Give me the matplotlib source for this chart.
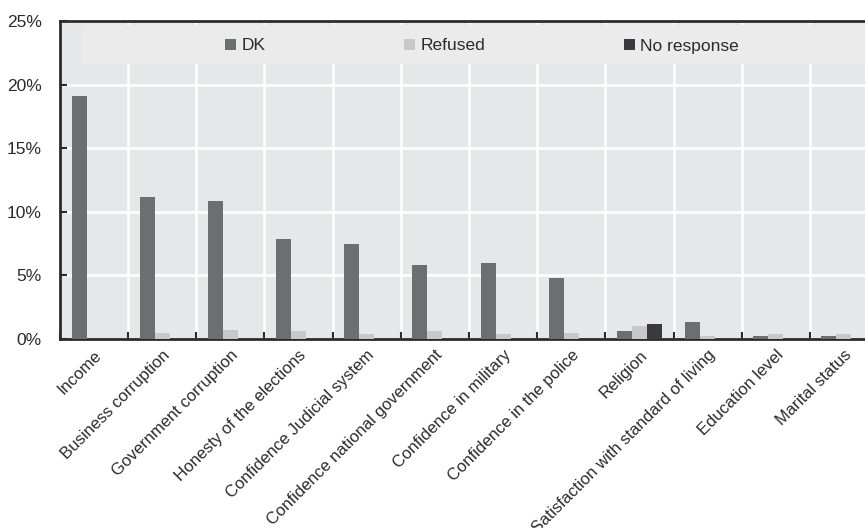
import numpy as np
import matplotlib
matplotlib.use('Agg')
import matplotlib.pyplot as plt
from matplotlib.patches import Rectangle
from matplotlib.ticker import FixedLocator, PercentFormatter

plt.rcParams['font.family'] = ['Liberation Sans Narrow', 'Liberation Sans', 'DejaVu Sans']

categories = ['Income', 'Business corruption', 'Government corruption',
              'Honesty of the elections', 'Confidence Judicial system',
              'Confidence national government', 'Confidence in military',
              'Confidence in the police', 'Religion',
              'Satisfaction with standard of living', 'Education level',
              'Marital status']
dk = [19.1, 11.2, 10.85, 7.85, 7.5, 5.85, 6.0, 4.8, 0.6, 1.35, 0.25, 0.2]
refused = [0.0, 0.5, 0.7, 0.62, 0.42, 0.62, 0.42, 0.5, 1.05, 0.26, 0.42, 0.36]
no_response = [0, 0, 0, 0, 0, 0, 0, 0, 1.2, 0, 0, 0]

col_dk = '#6d6e70'
col_ref = '#c8c8c9'
col_nr = '#3a3a3c'
txt_col = '#2b2b2b'

fig = plt.figure(figsize=(8.65, 5.28), dpi=100)
ax = fig.add_axes([60 / 865, 1 - 339 / 528, 818 / 865, 318 / 528])
ax.set_facecolor('#e6e7e8')

x = np.arange(len(categories))
w = 0.22
ax.bar(x - w, dk, w, color=col_dk, label='DK', zorder=3)
ax.bar(x, refused, w, color=col_ref, label='Refused', zorder=3)
ax.bar(x + w, no_response, w, color=col_nr, label='No response', zorder=3)

ax.set_xlim(-0.5, len(categories) - 0.5)
ax.set_ylim(0, 25)
ax.yaxis.set_major_locator(FixedLocator([0, 5, 10, 15, 20, 25]))
ax.yaxis.set_major_formatter(PercentFormatter(decimals=0))

ax.set_xticks(x)
ax.set_xticklabels(categories, rotation=45, ha='right', rotation_mode='anchor',
                   fontsize=12, color=txt_col)
ax.set_xticks(np.arange(len(categories) + 1) - 0.5, minor=True)
ax.tick_params(axis='x', which='major', length=0, pad=6)
ax.tick_params(axis='x', which='minor', direction='in', length=5, width=1.5,
               color=txt_col)
ax.tick_params(axis='y', direction='in', length=5, width=1.5, color=txt_col,
               labelsize=12.5, labelcolor=txt_col, pad=13)

ax.grid(True, which='minor', axis='x', color='white', linewidth=1.8, zorder=1)
ax.grid(True, which='major', axis='y', color='white', linewidth=1.8, zorder=1)
ax.set_axisbelow(True)

for side in ['left', 'bottom', 'top']:
    ax.spines[side].set_color(txt_col)
    ax.spines[side].set_linewidth(2)
ax.spines['right'].set_visible(False)

# lighter band behind the legend
band = Rectangle((23 / 818, (339 - 64) / 318), 1.0, (64 - 25) / 318,
                 transform=ax.transAxes, facecolor='#ebebec', edgecolor='none',
                 zorder=2)
ax.add_patch(band)

ax.legend(loc='center', bbox_to_anchor=((482 - 60) / 818, (339 - 46) / 318),
          ncol=3, frameon=False, fontsize=12.5, handlelength=0.65,
          handleheight=0.65, handletextpad=0.3, columnspacing=7.98,
          labelcolor=txt_col)

fig.savefig('out.png', dpi=100)
